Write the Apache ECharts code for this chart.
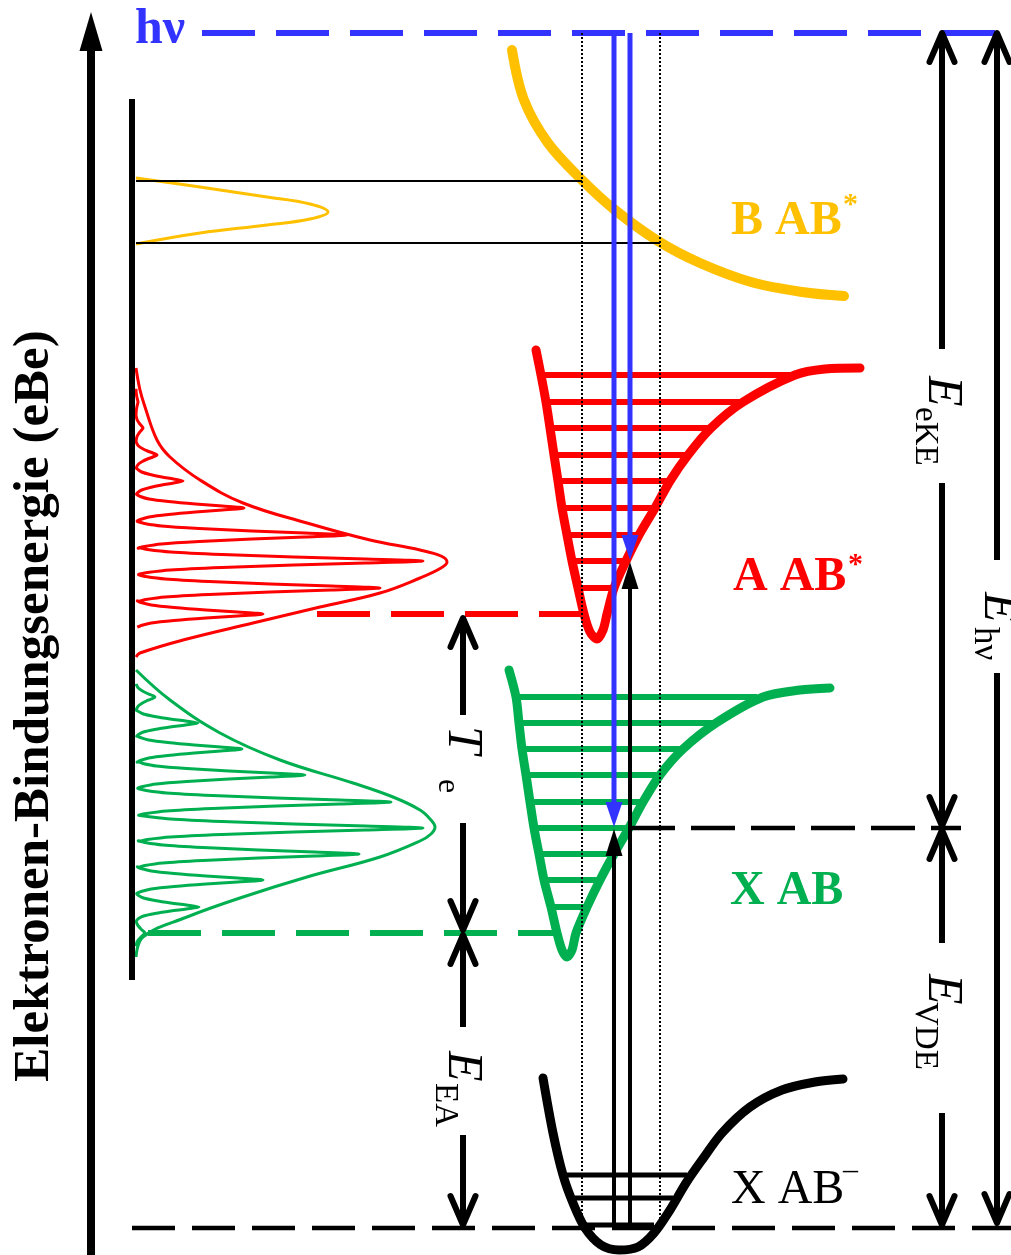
<!DOCTYPE html>
<html>
<head>
    <meta charset="UTF-8">
    <title>Elektronen-Bindungsenergie</title>
    <script src="https://cdn.jsdelivr.net/npm/echarts@6/dist/echarts.min.js"></script>
</head>
<body style="margin:0;overflow:hidden;background:#fff">
<div id="chart" style="width:1011px;height:1255px"></div>
<script type="text/javascript">
    var hvY = 33, vdeY = 828, anionY = 1228, redOriginY = 614, greenOriginY = 933;
    var base = 136; // spectrum baseline

    var orangeCurve = [[512,50],[524,100],[548,143],[582,180],[615,210],[658,241],[700,263],[751,282],[802,292],[844,296]];
    var orangePeak = [[136,178],[200,187],[267,197],[310,204],[328,212],[310,219],[267,225],[200,233],[136,244]];
    var bLineY = [181, 243];
    var bLineEnd = [582, 660];

    var redCurve = [[536,350],[541,375],[546,402],[550,428],[554,455],[558,481],[562,508],[567,535],[572,561],
        [578,588],[584,614],[590,632],[597,639],[603,630],[607,614],[614,588],[626,561],[639,535],[655,508],
        [670,481],[688,455],[711,428],[743,402],[795,375],[825,369],[860,368]];
    var redLevelY = [375, 402, 428, 455, 481, 508, 535, 561, 588];
    var redLevelLeft = [544, 548, 552, 556, 560, 564, 569, 574, 580];
    var redLevelRight = [790, 740, 708, 685, 667, 652, 636, 623, 611];
    var redPeakY = [402, 428, 455, 481, 508, 535, 561, 588, 614];
    var redPeakTip = [138, 143, 157, 183, 244, 347, 423, 380, 263];
    var redEnvelope = [[136,368],[140,390],[145,407],[157,440],[170,457],[200,480],[243,503],[307,523],[370,540],
        [420,550],[441,556],[447,562],[441,568],[420,578],[380,593],[320,607],[253,623],[183,640],[140,653],[136,657]];

    var greenCurve = [[509,670],[516,697],[519,723],[522,749],[526,775],[530,802],[534,828],[539,854],[544,880],
        [551,907],[557,933],[562,950],[567,957],[572,950],[576,933],[587,907],[600,880],[614,854],[629,828],
        [643,802],[660,775],[683,749],[716,723],[763,697],[800,690],[830,688]];
    var greenLevelY = [697, 723, 749, 775, 802, 828, 854, 880, 907];
    var greenLevelLeft = [518, 521, 524, 528, 532, 536, 541, 546, 553];
    var greenLevelRight = [757, 713, 680, 657, 640, 626, 611, 597, 584];
    var greenPeakY = [697, 723, 749, 775, 802, 828, 854, 880, 907, 933];
    var greenPeakTip = [155, 198, 242, 305, 391, 423, 359, 263, 199, 145];
    var greenEnvelope = [[136,670],[170,700],[220,733],[280,760],[353,783],[393,797],[420,810],[431,820],[435,827],
        [431,834],[420,841],[380,857],[307,877],[243,897],[187,917],[143,937],[136,957]];

    var anionCurve = [[543,1078],[553,1133],[563,1175],[573,1203],[585,1228],[601,1245],[619,1250],[638,1247],
        [654,1233],[670,1210],[686,1183],[702,1160],[722,1133],[750,1107],[782,1090],[815,1082],[843,1079]];
    var anionLevelY = [1175, 1198, 1225];
    var anionLevelLeft = [567, 575, 586];
    var anionLevelRight = [687, 673, 654];

    // peak profile: [offset from centre, fraction of height]
    var peakProfile = [[0,1],[2,0.8],[4,0.55],[6.5,0.3],[9,0.12],[11.5,0.04],[13.2,0.01]];

    // Franck-Condon window and transitions
    var dottedX = [582, 660];
    var blueX = [614, 630];
    var blueTip = [827, 560];
    var blackTip = [829, 562];

    // dimension arrows
    var dimX = [942, 997, 942, 463, 463];
    var dimTop = [33, 33, 830, 618, 935];
    var dimBottom = [826, 1223, 1225, 930, 1225];
    var dimGapTop = [349, 560, 943, 715, 1027];
    var dimGapBottom = [483, 673, 1113, 823, 1135];

    var BLUE = '#3333FF', ORANGE = '#FFC000', RED = '#FF0000', GREEN = '#00B050', BLACK = '#000';

    function path(data, color, width, opts) {
        opts = opts || {};
        return {
            type: 'line', data: data, symbol: 'none', silent: true, animation: false,
            smooth: opts.smooth || false, z: opts.z || 2,
            lineStyle: {color: color, width: width, type: opts.dash || 'solid', cap: opts.cap || 'butt', join: 'round'}
        };
    }

    function peakTrace(ys, tips) {
        var pts = [];
        ys.forEach(function (yc, k) {
            var h = tips[k] - base;
            for (var i = peakProfile.length - 1; i > 0; i--) pts.push([base + peakProfile[i][1] * h, yc - peakProfile[i][0]]);
            pts.push([tips[k], yc]);
            for (var j = 1; j < peakProfile.length; j++) pts.push([base + peakProfile[j][1] * h, yc + peakProfile[j][0]]);
        });
        return pts;
    }

    function levels(ys, left, right, color, width) {
        return ys.map(function (y, i) {
            return path([[left[i], y], [right[i], y]], color, width);
        });
    }

    function heads(points, color, len, hw, open) {
        return {
            type: 'custom', silent: true, animation: false, z: 7,
            encode: {x: 0, y: 1},
            data: points,
            renderItem: function (params, api) {
                var p = api.coord([api.value(0), api.value(1)]);
                var d = api.value(2); // 1: head points down, -1: points up
                var l = [p[0] - hw, p[1] - d * len], r = [p[0] + hw, p[1] - d * len];
                if (open) {
                    return {type: 'polyline', shape: {points: [l, p, r]},
                        style: {stroke: color, lineWidth: 6, fill: 'none', lineCap: 'round', lineJoin: 'round'}};
                }
                return {type: 'polygon', shape: {points: [l, p, r]}, style: {fill: color}};
            }
        };
    }

    var series = [];
    // axis and spectrum baseline
    series.push(path([[91, 1255], [91, 45]], BLACK, 8, {z: 3}));
    series.push(path([[132, 99], [132, 980]], BLACK, 6, {z: 3}));

    // potential curves and vibrational levels
    series = series.concat(levels(redLevelY, redLevelLeft, redLevelRight, RED, 6));
    series = series.concat(levels(greenLevelY, greenLevelLeft, greenLevelRight, GREEN, 6));
    series = series.concat(levels(anionLevelY, anionLevelLeft, anionLevelRight, BLACK, 5));
    series.push(path(orangeCurve, ORANGE, 10, {smooth: 0.35, cap: 'round'}));
    series.push(path(redCurve, RED, 9, {smooth: 0.3, cap: 'round'}));
    series.push(path(greenCurve, GREEN, 9, {smooth: 0.3, cap: 'round'}));
    series.push(path(anionCurve, BLACK, 9, {smooth: 0.3, cap: 'round'}));

    // spectra
    series.push(path(orangePeak, ORANGE, 3, {smooth: 0.4}));
    series.push(path(peakTrace(redPeakY, redPeakTip), RED, 3, {smooth: 0.3}));
    series.push(path(redEnvelope, RED, 3, {smooth: 0.4}));
    series.push(path(peakTrace(greenPeakY, greenPeakTip), GREEN, 3, {smooth: 0.3}));
    series.push(path(greenEnvelope, GREEN, 3, {smooth: 0.4}));
    bLineY.forEach(function (y, i) {
        series.push(path([[base, y], [bLineEnd[i], y]], BLACK, 2, {z: 3}));
    });

    // dashed energy levels
    series.push(path([[202, hvY], [995, hvY]], BLUE, 6, {dash: [53, 21], z: 3}));
    series.push(path([[317, redOriginY], [586, redOriginY]], RED, 6, {dash: [53, 21], z: 3}));
    series.push(path([[148, greenOriginY], [558, greenOriginY]], GREEN, 6, {dash: [53, 21], z: 3}));
    series.push(path([[631, vdeY], [961, vdeY]], BLACK, 4.5, {dash: [44, 16], z: 3}));
    series.push(path([[132, anionY], [1011, anionY]], BLACK, 4.5, {dash: [43, 17], z: 3}));

    // Franck-Condon window
    dottedX.forEach(function (x) {
        series.push(path([[x, hvY], [x, 1222]], BLACK, 2, {dash: [2, 2], z: 4}));
    });

    // transitions
    blueX.forEach(function (x, i) {
        series.push(path([[x, hvY], [x, blueTip[i] - 22]], BLUE, 5, {z: 5}));
        series.push(path([[x, 1225], [x, blackTip[i] + 24]], BLACK, 4, {z: 5}));
    });
    series.push(heads([[91, 12, -1]], BLACK, 39, 11.5, false));
    series.push(heads(blueX.map(function (x, i) { return [x, blueTip[i], 1]; }), BLUE, 25, 8.5, false));
    series.push(heads(blueX.map(function (x, i) { return [x, blackTip[i], -1]; }), BLACK, 27, 8.5, false));

    // dimension arrows
    var chev = [];
    dimX.forEach(function (x, i) {
        series.push(path([[x, dimTop[i]], [x, dimGapTop[i]]], BLACK, 6, {z: 5}));
        series.push(path([[x, dimGapBottom[i]], [x, dimBottom[i]]], BLACK, 6, {z: 5}));
        chev.push([x, dimTop[i], -1]);
        chev.push([x, dimBottom[i], 1]);
    });
    series.push(heads(chev, BLACK, 29, 12.5, true));

    var SERIF = '"Liberation Serif", "DejaVu Serif", serif';
    function label(text, x, y, font, color, rot, align) {
        return {
            type: 'text', x: x, y: y, rotation: rot || 0, silent: true, z: 20,
            style: {text: text, font: font + ' ' + SERIF, fill: color,
                align: align || 'left', verticalAlign: 'middle',
                textAlign: align || 'left', textVerticalAlign: 'middle'}
        };
    }
    var down = -Math.PI / 2;
    var graphic = [
        label('Elektronen-Bindungsenergie (eBe)', 35, 706, 'bold 51px', BLACK, Math.PI / 2, 'center'),
        label('hν', 135, 30, 'bold 50px', BLUE),
        label('B AB', 731, 222, 'bold 48px', ORANGE),
        label('*', 843, 205, 'bold 30px', ORANGE),
        label('A AB', 733, 578, 'bold 48px', RED),
        label('*', 848, 565, 'bold 30px', RED),
        label('X AB', 730, 892, 'bold 48px', GREEN),
        label('X AB', 731, 1190, '48px', BLACK),
        label('\u2013', 843, 1171, '30px', BLACK),
        label('E', 942, 376, 'italic 50px', BLACK, down),
        label('eKE', 925, 407, '33px', BLACK, down),
        label('E', 998, 592, 'italic 50px', BLACK, down),
        label('hν', 984, 627, '35px', BLACK, down),
        label('E', 942, 974, 'italic 50px', BLACK, down),
        label('VDE', 925, 1002, '33px', BLACK, down),
        label('T', 462, 726, 'italic 50px', BLACK, down),
        label('e', 447, 779, '32px', BLACK, down),
        label('E', 462, 1051, 'italic 50px', BLACK, down),
        label('EA', 445, 1083, '33px', BLACK, down)
    ];

    var chart = echarts.init(document.getElementById('chart'));
    chart.setOption({
        backgroundColor: '#fff',
        animation: false,
        grid: {left: 0, right: 0, top: 0, bottom: 0},
        xAxis: {type: 'value', min: 0, max: 1011, show: false},
        yAxis: {type: 'value', min: 0, max: 1255, inverse: true, show: false},
        graphic: graphic,
        series: series
    });
</script>
</body>
</html>
